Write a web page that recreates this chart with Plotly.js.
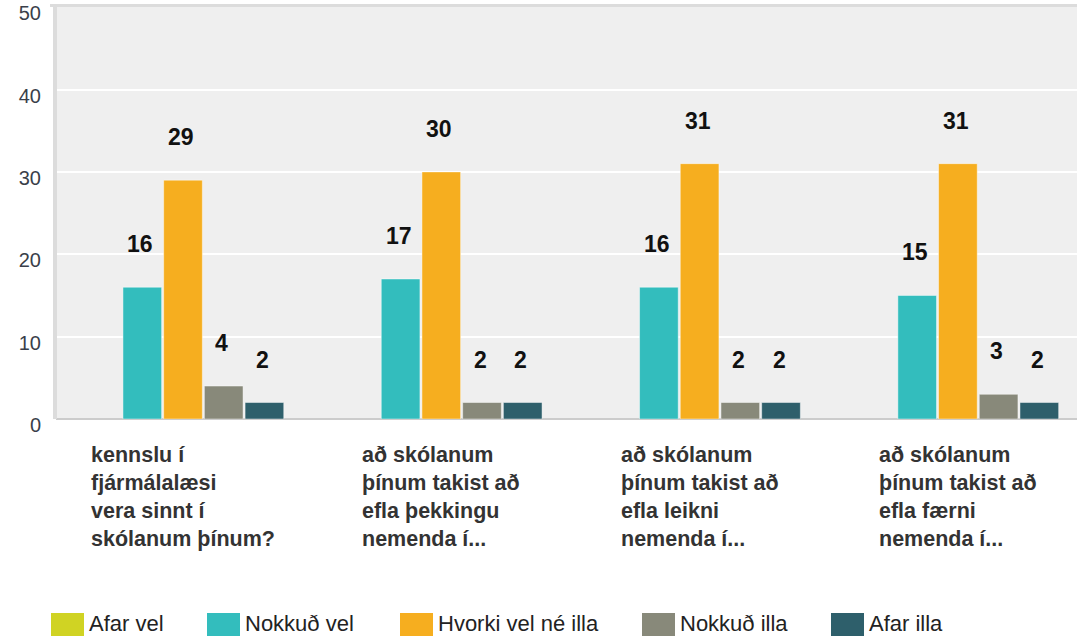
<!DOCTYPE html>
<html>
<head>
<meta charset="utf-8">
<script src="https://cdn.plot.ly/plotly-3.0.1.min.js"></script>
<style>
  html, body { margin: 0; padding: 0; background: #fff; overflow: hidden; }
  #chart { width: 1077px; height: 637px; }
</style>
</head>
<body>
<div id="chart"></div>
<script>
// ---- data ----
const categories = [
  "kennslu í<br>fjármálalæsi<br>vera sinnt í<br>skólanum þínum?",
  "að skólanum<br>þínum takist að<br>efla þekkingu<br>nemenda í...",
  "að skólanum<br>þínum takist að<br>efla leikni<br>nemenda í...",
  "að skólanum<br>þínum takist að<br>efla færni<br>nemenda í..."
];
const seriesNames = ["Afar vel", "Nokkuð vel", "Hvorki vel né illa", "Nokkuð illa", "Afar illa"];
const afarVel     = [0, 0, 0, 0];
const nokkudVel   = [16, 17, 16, 15];
const hvorki      = [29, 30, 31, 31];
const nokkudIlla  = [4, 2, 2, 3];
const afarIlla    = [2, 2, 2, 2];
const seriesValues = [afarVel, nokkudVel, hvorki, nokkudIlla, afarIlla];
const seriesColors = ["#d0d323", "#33bdbd", "#f6ae1f", "#88897a", "#2e5f6b"];
const yTicks = [0, 10, 20, 30, 40, 50];

// ---- layout constants ----
const W = 1077, H = 637;
const M = {l: 56, r: 0, t: 7, b: 218};
const plotW = W - M.l - M.r, plotH = H - M.t - M.b;
const px2paperX = px => (px - M.l) / plotW;
const px2paperY = py => (H - M.b - py) / plotH;
const slotPx = 40.7;               // width of one bar slot inside a group
const legendX = [51, 207, 400, 642, 831];
const FONT = "Liberation Sans, Arial, sans-serif";

const catIdx = categories.map((c, i) => i);

const traces = seriesNames.map((name, s) => ({
  type: "bar",
  name: name,
  x: catIdx,
  y: seriesValues[s],
  marker: {
    color: seriesColors[s],
    line: {color: "rgba(255,255,255,0.45)", width: seriesValues[s].map(v => v ? 1 : 0)}
  },
  showlegend: false,
  hoverinfo: "y"
}));

const annotations = [];
// value labels above bars (skip zero values)
seriesValues.forEach((vals, s) => {
  vals.forEach((v, i) => {
    if (v === 0) return;
    annotations.push({
      x: i, y: v, xref: "x", yref: "y",
      text: "<b>" + v + "</b>", showarrow: false,
      xshift: (s - 2) * slotPx - 2, yshift: 43,
      font: {family: FONT, size: 23, color: "#111"}
    });
  });
});
// category labels
categories.forEach((c, i) => {
  annotations.push({
    x: i, y: 0, xref: "x", yref: "paper",
    xanchor: "center", yanchor: "top", align: "left",
    yshift: -22,
    text: "<b>" + c + "</b>", showarrow: false,
    font: {family: FONT, size: 21.5, color: "#333"}
  });
});
// custom legend
const shapes = [];
seriesNames.forEach((name, s) => {
  shapes.push({
    type: "rect", xref: "paper", yref: "paper",
    x0: px2paperX(legendX[s]), x1: px2paperX(legendX[s] + 33),
    y0: px2paperY(636), y1: px2paperY(613),
    fillcolor: seriesColors[s], line: {width: 0}
  });
  annotations.push({
    x: px2paperX(legendX[s] + 36), y: px2paperY(623),
    xref: "paper", yref: "paper", xanchor: "left", yanchor: "middle",
    text: name, showarrow: false,
    font: {family: FONT, size: 22, color: "#222"}
  });
});
// plot border lines (top and left)
shapes.push({type: "line", xref: "paper", yref: "paper", x0: px2paperX(50), x1: 1, y0: px2paperY(5.5), y1: px2paperY(5.5),
  line: {color: "#dcdcdc", width: 3}});
shapes.push({type: "line", xref: "paper", yref: "paper", x0: px2paperX(55), x1: px2paperX(55), y0: 0, y1: px2paperY(4),
  line: {color: "#dcdcdc", width: 4}});

const layout = {
  width: W, height: H,
  margin: M,
  paper_bgcolor: "#ffffff",
  plot_bgcolor: "#efefef",
  barmode: "group",
  bargap: 0.212,
  bargroupgap: 0.05,
  showlegend: false,
  xaxis: {
    range: [-(183 - M.l) / 258.3, (W - 183) / 258.3],
    showticklabels: false, showgrid: false, zeroline: false, ticks: "",
    fixedrange: true
  },
  yaxis: {
    range: [0, 50.02],
    tickvals: yTicks, ticktext: yTicks.map(String),
    showgrid: true, gridcolor: "#ffffff", gridwidth: 2,
    zeroline: true, zerolinecolor: "#cccccc", zerolinewidth: 2,
    ticks: "", ticklabelshift: 6, ticklabelstandoff: 14,
    ticklabeloverflow: "allow",
    tickfont: {family: FONT, size: 20, color: "#3a3f4a"},
    fixedrange: true
  },
  annotations: annotations,
  shapes: shapes
};

Plotly.newPlot("chart", traces, layout, {displayModeBar: false, staticPlot: true});
</script>
</body>
</html>
